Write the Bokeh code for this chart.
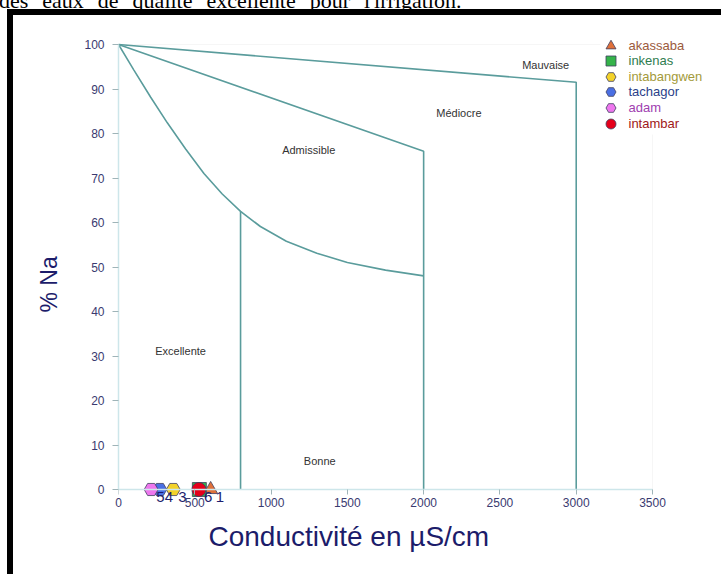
from bokeh.plotting import figure
from bokeh.models import (Range1d, LinearAxis, FixedTicker, BoxAnnotation, Title,
                          Legend, LegendItem, ColumnDataSource, Div, Spacer)
from bokeh.layouts import column, row
from bokeh.core.properties import value
from bokeh.embed import file_html
from bokeh.resources import INLINE

# Sites and their measurements (conductivity in µS/cm, sodium percentage)
sites = ["akassaba", "inkenas", "intabangwen", "tachagor", "adam", "intambar"]
site_numbers = ["1", "", "3", "4", "5", "6"]
conductivity = [604, 530, 359, 271, 214, 527]
sodium_pct = [0, 0, 0, 0, 0, 0]
markers = ["triangle", "square", "hex", "hex", "hex", "circle"]
fill_colors = ["#e0703a", "#35b34a", "#f3d22a", "#4a6fe3", "#ee77ee", "#e5001a"]
text_colors = ["#9b5a3c", "#2f7d4f", "#a39a3a", "#2b3f8a", "#a040b0", "#a01818"]

# Wilcox diagram class boundaries
mauvaise_x = [0, 3000, 3000]
mauvaise_y = [100, 91.5, 0]
mediocre_x = [0, 2000, 2000]
mediocre_y = [100, 76, 0]
admissible_x = [0, 100, 210, 320, 440, 560, 680, 800, 930, 1100, 1300, 1500, 1750, 2000]
admissible_y = [100, 94.3, 88.2, 82.4, 76.5, 71.0, 66.4, 62.5, 59.1, 55.8, 53.1, 51.0, 49.3, 48.0]
bonne_x = [800, 800]
bonne_y = [62.5, 0]

zone_names = ["Mauvaise", "Médiocre", "Admissible", "Excellente", "Bonne"]
zone_x = [2800, 2231, 1247, 407, 1319]
zone_y = [95.5, 84.5, 76.4, 31.2, 6.5]

x_ticks = [0, 500, 1000, 1500, 2000, 2500, 3000, 3500]
y_ticks = [0, 10, 20, 30, 40, 50, 60, 70, 80, 90, 100]

FONT = "Liberation Sans"
LINE = "#5a9c9c"
NAVY = "#1c1c6a"
AXIS_LINE = "#cde6ea"
TICK = "#9fb4b8"

# frame geometry
FRAME_W, FRAME_H = 603, 477
PX_PER_X = 534 / 3500
PX_PER_Y = 445 / 100
Y0 = -17 / PX_PER_Y
FB = 506   # frame bottom on the page
FL = 118   # frame left on the page

p = figure(frame_width=FRAME_W, frame_height=FRAME_H,
           min_border_left=105, min_border_top=14, min_border_right=0, min_border_bottom=68,
           x_range=Range1d(0, FRAME_W / PX_PER_X),
           y_range=Range1d(Y0, Y0 + FRAME_H / PX_PER_Y),
           output_backend="svg", toolbar_location=None,
           background_fill_color="white", border_fill_color="white")
p.outline_line_color = None
p.grid.visible = False

# light border of the plotting area (0..3500, 0..100)
p.add_layout(BoxAnnotation(left=0, right=3500, bottom=0, top=100, level="underlay",
                           fill_alpha=0, line_color="#e0e0e0", line_width=1))

# x axis: tick labels below the frame, axis line and tick marks along y = 0
xa = p.xaxis[0]
xa.ticker = FixedTicker(ticks=x_ticks)
xa.bounds = (0, 3500)
xa.axis_line_color = None
xa.major_tick_line_color = None
xa.major_tick_out = 0
xa.major_tick_in = 0
xa.minor_tick_line_color = None
xa.major_label_standoff = -9
x_line = LinearAxis(ticker=FixedTicker(ticks=[], minor_ticks=x_ticks), bounds=(0, 3500),
                    fixed_location=0, axis_line_color=AXIS_LINE, axis_line_width=1.5,
                    major_tick_line_color=None, minor_tick_line_color=TICK,
                    minor_tick_in=5, minor_tick_out=0)
p.add_layout(x_line, "above")

ya = p.yaxis[0]
ya.bounds = (0, 100)
ya.ticker = FixedTicker(ticks=y_ticks)
ya.axis_line_color = AXIS_LINE
ya.axis_line_width = 1.5
ya.major_tick_line_color = TICK
ya.major_tick_in = 0
ya.major_tick_out = 6
ya.minor_tick_line_color = None
ya.major_label_standoff = 8

for ax in (xa, ya):
    ax.major_label_text_font = FONT
    ax.major_label_text_font_size = "12px"
    ax.major_label_text_color = "#3a3a70"

# axis titles
p.add_layout(Title(text="% Na", align="left", offset=FB - 312, standoff=39,
                   text_font=FONT, text_font_size="23px", text_font_style="normal",
                   text_color=NAVY), "left")
p.add_layout(Title(text="Conductivité en µS/cm", align="left", offset=208 - FL, standoff=18,
                   text_font=FONT, text_font_size="28px", text_font_style="normal",
                   text_color=NAVY), "below")

# class boundaries
for bx, by in [(mauvaise_x, mauvaise_y), (mediocre_x, mediocre_y),
               (admissible_x, admissible_y), (bonne_x, bonne_y)]:
    p.line(bx, by, line_color=LINE, line_width=1.6)

p.text(zone_x, zone_y, text=zone_names, text_font=value(FONT), text_font_size="11px",
       text_color="#333333", text_align="center", text_baseline="middle")

# sampled sites
renderers = []
for i, name in enumerate(sites):
    r = p.scatter([conductivity[i]], [sodium_pct[i]], marker=markers[i], size=14,
                  fill_color=fill_colors[i], line_color="#404060", line_width=0.8)
    renderers.append(r)

num_src = ColumnDataSource(dict(x=conductivity, y=sodium_pct, t=site_numbers))
p.text("x", "y", text="t", source=num_src, text_font=value(FONT), text_font_size="15px",
       text_color="#1e1e6e", text_align="left", text_baseline="middle",
       x_offset=5, y_offset=7)

# legend: white patch, then one entry per site in its own colour
p.add_layout(BoxAnnotation(left=600 - FL, right=FRAME_W, top=FRAME_H, bottom=FB - 134,
                           left_units="screen", right_units="screen",
                           top_units="screen", bottom_units="screen",
                           fill_color="white", fill_alpha=1, line_color=None))

row_y = [45, 60.6, 76.2, 91.8, 107.4, 123]
GL = 25
for i, name in enumerate(sites):
    lg = Legend(items=[LegendItem(label=name, renderers=[renderers[i]])],
                location=(610 - GL / 2 - FL, FB - (row_y[i] + GL / 2)),
                glyph_width=GL, glyph_height=GL, label_height=GL, label_standoff=6,
                padding=0, margin=0, spacing=0,
                border_line_color=None, background_fill_alpha=0,
                label_text_font=FONT, label_text_font_size="13px",
                label_text_color=text_colors[i])
    p.add_layout(lg)

# caption line above the framed figure
caption = Div(
    text=('<div style="position:relative; top:-11px; left:-1px; white-space:nowrap; '
          'font-family:\'Liberation Serif\'; font-size:22px; line-height:24px; '
          'word-spacing:8.5px; color:black;">'
          "des eaux de qualité excellente pour l'irrigation.</div>"),
    width=721, height=9, margin=0, styles={"overflow": "hidden"})
top_bar = Div(text="", width=714, height=6, margin=0, styles={"background-color": "black"})
left_bar = Div(text="", width=6, height=559, margin=0, styles={"background-color": "black"})
lead = Spacer(width=7, height=565, margin=0)
p.margin = 0

page = column(caption, row(lead, column(top_bar, row(left_bar, p, spacing=0), spacing=0),
                           spacing=0), spacing=0)

open("out.html", "w").write(file_html(page, INLINE))
